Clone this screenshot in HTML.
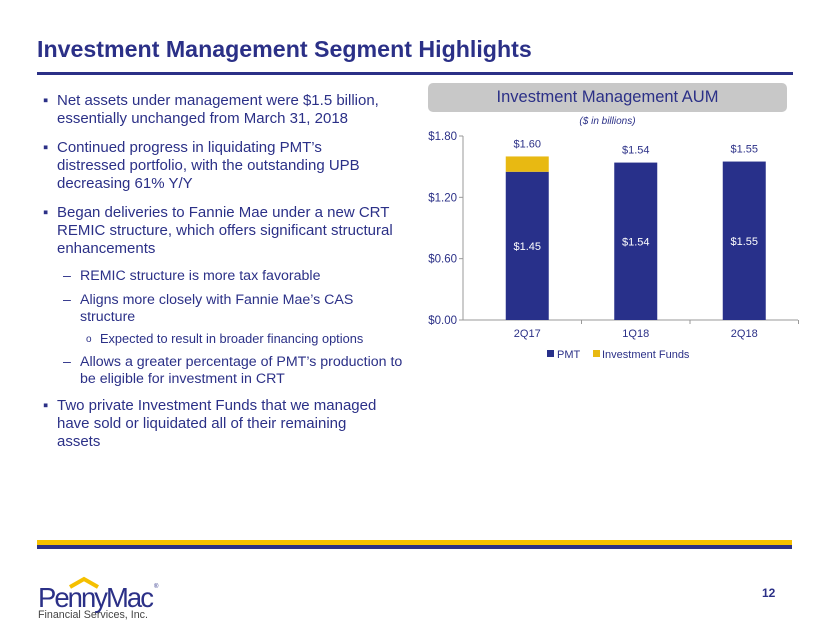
<!DOCTYPE html>
<html><head><meta charset="utf-8"><style>
body{margin:0;width:830px;height:623px;position:relative;background:#fff;font-family:"Liberation Sans",Arial,sans-serif;color:#2b3087;overflow:hidden}
.t{position:absolute;white-space:nowrap;line-height:18px;font-size:15px}
.s{font-size:14.2px}
.ss{font-size:12.8px}
</style></head><body>
<div class="t" style="left:37px;top:36px;font-size:23.2px;font-weight:bold;line-height:26px">Investment Management Segment Highlights</div>
<div style="position:absolute;left:37px;top:72px;width:756px;height:3px;background:#2b3087"></div>

<div>
<div class="t" style="left:43px;top:92px">▪</div>
<div class="t" style="left:57px;top:92px">Net assets under management were $1.5 billion,</div>
<div class="t" style="left:57px;top:110px">essentially unchanged from March 31, 2018</div>
<div class="t" style="left:43px;top:139px">▪</div>
<div class="t" style="left:57px;top:139px">Continued progress in liquidating PMT’s</div>
<div class="t" style="left:57px;top:157px">distressed portfolio, with the outstanding UPB</div>
<div class="t" style="left:57px;top:175px">decreasing 61% Y/Y</div>
<div class="t" style="left:43px;top:204px">▪</div>
<div class="t" style="left:57px;top:204px">Began deliveries to Fannie Mae under a new CRT</div>
<div class="t" style="left:57px;top:222px">REMIC structure, which offers significant structural</div>
<div class="t" style="left:57px;top:240px">enhancements</div>
<div class="t s" style="left:63px;top:267px">–</div>
<div class="t s" style="left:80px;top:267px">REMIC structure is more tax favorable</div>
<div class="t s" style="left:63px;top:291px">–</div>
<div class="t s" style="left:80px;top:291px">Aligns more closely with Fannie Mae’s CAS</div>
<div class="t s" style="left:80px;top:308px">structure</div>
<div class="t ss" style="left:86px;top:331px;font-size:10px">o</div>
<div class="t ss" style="left:100px;top:330px">Expected to result in broader financing options</div>
<div class="t s" style="left:63px;top:353px">–</div>
<div class="t s" style="left:80px;top:353px">Allows a greater percentage of PMT’s production to</div>
<div class="t s" style="left:80px;top:370px">be eligible for investment in CRT</div>
<div class="t" style="left:43px;top:397px">▪</div>
<div class="t" style="left:57px;top:397px">Two private Investment Funds that we managed</div>
<div class="t" style="left:57px;top:415px">have sold or liquidated all of their remaining</div>
<div class="t" style="left:57px;top:433px">assets</div>
</div>

<div style="position:absolute;left:428px;top:83px;width:359px;height:29px;background:#c8c8c8;border-radius:5px;text-align:center;line-height:29px;font-size:16.5px;color:#2b3087">Investment Management AUM</div>
<div class="t" style="left:428px;top:113px;width:359px;text-align:center;font-size:10px;font-style:italic">($ in billions)</div>

<svg id="chart" style="position:absolute;left:0;top:0" width="830" height="623"></svg>

<div style="position:absolute;left:37px;top:540px;width:755px;height:5px;background:#f5c000"></div>
<div style="position:absolute;left:37px;top:545px;width:755px;height:4px;background:#2b3087"></div>

<svg style="position:absolute;left:30px;top:575px" width="140" height="45">
<polyline points="40,12 54,4 68,12" fill="none" stroke="#f5c000" stroke-width="4"/>
<text x="8" y="32" font-family="Liberation Sans Narrow, Liberation Sans, sans-serif" font-size="28" fill="#2b3087" letter-spacing="-2" textLength="114" lengthAdjust="spacingAndGlyphs">PennyMac</text>
<text x="124" y="13" font-size="6" fill="#2b3087">®</text>
<text x="8" y="43" font-family="Liberation Sans Narrow, Liberation Sans, sans-serif" font-size="11" fill="#444" textLength="110" lengthAdjust="spacingAndGlyphs">Financial Services, Inc.</text>
</svg>
<div class="t" style="left:762px;top:584px;font-size:12px;font-weight:bold">12</div>

<script>
const categories=["2Q17","1Q18","2Q18"];
const pmt=[1.45,1.54,1.55];
const funds=[0.15,0.0,0.0];
const totals=["$1.60","$1.54","$1.55"];
const pmtLabels=["$1.45","$1.54","$1.55"];
const yTicks=[0,0.6,1.2,1.8];
const yTickLabels=["$0.00","$0.60","$1.20","$1.80"];
const svg=document.getElementById('chart');
const NS="http://www.w3.org/2000/svg";
const y0=320,y1=136,vmax=1.8,axL=463,axR=798,cx0=473,cw=108.5,bw=43;
function y(v){return y0-(v/vmax)*(y0-y1);}
function x(i){return cx0+cw*(i+0.5);}
function mk(t,a,txt){const e=document.createElementNS(NS,t);for(const k in a)e.setAttribute(k,a[k]);if(txt!==undefined)e.textContent=txt;svg.appendChild(e);return e;}
yTicks.forEach((v,i)=>{
 const l=mk('line',{x1:axL-4,x2:axL,y1:y(v),y2:y(v),stroke:'#999'});
 
 
 const t=mk('text',{x:axL-6,y:y(v)+4,'text-anchor':'end','font-size':11.5,fill:'#2b3087','font-family':'Liberation Sans'},yTickLabels[i]);
 
 
});
const ya=mk('line',{x1:axL,x2:axL,y1:y1,y2:y0,stroke:'#999'});


const xa=mk('line',{x1:axL,x2:axR,y1:y0,y2:y0,stroke:'#999'});


categories.forEach((c,i)=>{
 const tx=cx0+cw*(i+1);
 const tk=mk('line',{x1:tx,x2:tx,y1:y0,y2:y0+4,stroke:'#999'});
 
 
 const b=mk('rect',{x:x(i)-bw/2,y:y(pmt[i]),width:bw,height:y0-y(pmt[i]),fill:'#28308a'});
 
 
 if(funds[i]>0){
  const f=mk('rect',{x:x(i)-bw/2,y:y(pmt[i]+funds[i]),width:bw,height:y(pmt[i])-y(pmt[i]+funds[i]),fill:'#e8b912'});
  
  
 }
 const tl=mk('text',{x:x(i),y:y(pmt[i]+funds[i])-9,'text-anchor':'middle','font-size':11,fill:'#2b3087','font-family':'Liberation Sans'},totals[i]);
 
 
 const pl=mk('text',{x:x(i),y:y(pmt[i]/2)+4,'text-anchor':'middle','font-size':11,fill:'#fff','font-family':'Liberation Sans'},pmtLabels[i]);
 
 
 const cl=mk('text',{x:x(i),y:y0+17,'text-anchor':'middle','font-size':11,fill:'#2b3087','font-family':'Liberation Sans'},c);
 
 
});
const lg1=mk('rect',{x:547,y:350,width:7,height:7,fill:'#28308a'});


const lt1=mk('text',{x:557,y:358,'font-size':11,fill:'#2b3087','font-family':'Liberation Sans'},'PMT');


const lg2=mk('rect',{x:593,y:350,width:7,height:7,fill:'#e8b912'});


const lt2=mk('text',{x:602,y:358,'font-size':11,fill:'#2b3087','font-family':'Liberation Sans'},'Investment Funds');


</script>
</body></html>
